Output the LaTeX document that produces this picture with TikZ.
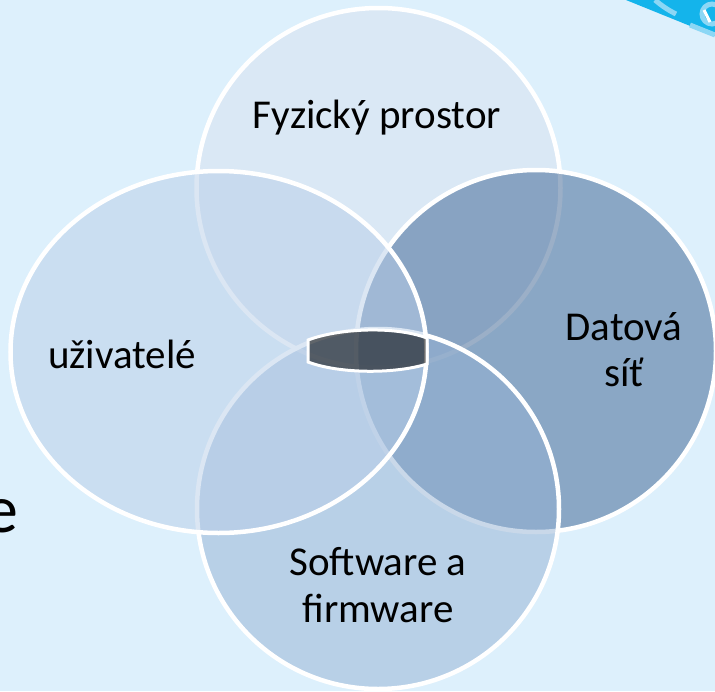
\documentclass[tikz,border=0pt]{standalone}
\usepackage{fontspec}
\setmainfont{Carlito}
\definecolor{bgc}{RGB}{221,240,252}
\definecolor{topc}{RGB}{216,226,240}
\definecolor{rightc}{RGB}{56,96,144}
\definecolor{botc}{RGB}{148,178,212}
\definecolor{leftc}{RGB}{184,206,232}
\definecolor{decoblue}{RGB}{20,180,235}
\definecolor{decolight}{RGB}{140,215,245}
\tikzset{
  venn/.style={draw=white, line width=4.5pt, fill opacity=0.5},
  lensshape/.style={draw=white, line width=3pt, fill=black, fill opacity=0.56},
  lbl/.style={anchor=base, inner sep=0pt, text=black, font=\fontsize{41}{47}\selectfont},
}
\begin{document}
\begin{tikzpicture}[x=1pt, y=-1pt]
  \useasboundingbox (0,0) rectangle (715,691);
  \fill[bgc] (0,0) rectangle (715,691);
  % decoration in the top right corner
  \begin{scope}
    \clip (0,0) rectangle (715,691);
    \fill[decoblue] (626,0) -- (715,0) -- (715,36) -- cycle;
    \draw[decolight, line width=5pt] (655,0) .. controls (662,6) and (668,10) .. (676,14);
    \draw[decolight, line width=5pt] (690,25) -- (715,35);
    \draw[decolight, line width=5pt] (712,14) circle [radius=10];
    \draw[white, line width=3pt] (704,10) -- (710,22);
    % partial letter of slide text on the left
    \node (eletter) [anchor=base east, inner sep=0pt, font=\fontsize{68}{80}\selectfont] at (19,532) {e};
  \end{scope}
  % Venn shapes
  \path[venn, fill=topc]   (378.5,188) ellipse [x radius=182, y radius=180];
  \path[venn, fill=rightc] (536,351)   ellipse [x radius=180, y radius=181];
  \path[venn, fill=botc]   (378,509)   ellipse [x radius=181, y radius=180];
  \path[venn, fill=leftc]  (218.5,352) ellipse [x radius=208, y radius=181];
  % central lens
  \draw[lensshape] (308,340) .. controls (340,328) and (395,326) .. (427,338)
     -- (427,364) .. controls (395,374) and (340,374) .. (308,362) -- cycle;
  % labels
  \node (fyz) [lbl] at (377,128) {Fyzický prostor};
  \node (uzi) [lbl] at (122,368) {uživatelé};
  \node (dat1) [lbl] at (624,340) {Datová};
  \node (dat2) [lbl] at (624,386) {síť};
  \node (sw1) [lbl] at (378,575) {Software a};
  \node (sw2) [lbl] at (378,622) {firmware};
\end{tikzpicture}
\end{document}
